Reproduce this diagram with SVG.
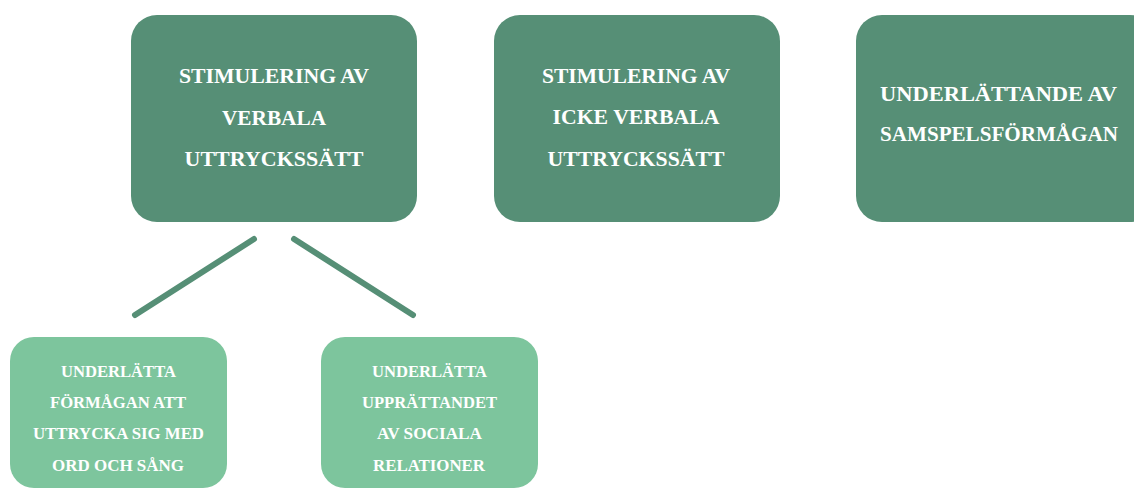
<svg xmlns="http://www.w3.org/2000/svg" width="1134" height="488" viewBox="0 0 1134 488">
<style>
.dk{fill:#568F76}
.lt{fill:#7DC59D}
.t{font-family:"Liberation Serif",serif;fill:#FFFFFF;text-anchor:middle;font-weight:bold}
.tl{font-size:21px}
.ts{font-size:16.5px}
.c{stroke:#568F76;stroke-width:6;stroke-linecap:round;fill:none}
</style>
<rect width="1134" height="488" fill="#FFFFFF"/>
<g id="connectors">
<line class="c" x1="254" y1="239" x2="135" y2="315"/>
<line class="c" x1="294" y1="239" x2="413" y2="315"/>
</g>
<g id="node-verbala">
<rect class="dk" x="131" y="15" width="286" height="207" rx="26"/>
<text class="t tl" x="274" y="83" textLength="190" lengthAdjust="spacingAndGlyphs">STIMULERING AV</text>
<text class="t tl" x="274" y="125" textLength="104" lengthAdjust="spacingAndGlyphs">VERBALA</text>
<text class="t tl" x="274" y="166" textLength="179" lengthAdjust="spacingAndGlyphs">UTTRYCKSSÄTT</text>
</g>
<g id="node-ickeverbala">
<rect class="dk" x="494" y="15" width="286" height="207" rx="26"/>
<text class="t tl" x="636" y="83" textLength="188" lengthAdjust="spacingAndGlyphs">STIMULERING AV</text>
<text class="t tl" x="636" y="124" textLength="167" lengthAdjust="spacingAndGlyphs">ICKE VERBALA</text>
<text class="t tl" x="636" y="166" textLength="177" lengthAdjust="spacingAndGlyphs">UTTRYCKSSÄTT</text>
</g>
<g id="node-samspel">
<rect class="dk" x="856" y="15" width="300" height="207" rx="26"/>
<text class="t tl" x="998.5" y="101" textLength="237" lengthAdjust="spacingAndGlyphs">UNDERLÄTTANDE AV</text>
<text class="t tl" x="999" y="141" textLength="238" lengthAdjust="spacingAndGlyphs">SAMSPELSFÖRMÅGAN</text>
</g>
<g id="node-ordsang">
<rect class="lt" x="10" y="337" width="217" height="151" rx="24"/>
<text class="t ts" x="118.5" y="377" textLength="115" lengthAdjust="spacingAndGlyphs">UNDERLÄTTA</text>
<text class="t ts" x="118" y="408" textLength="136" lengthAdjust="spacingAndGlyphs">FÖRMÅGAN ATT</text>
<text class="t ts" x="118.5" y="439" textLength="171" lengthAdjust="spacingAndGlyphs">UTTRYCKA SIG MED</text>
<text class="t ts" x="118" y="471" textLength="132" lengthAdjust="spacingAndGlyphs">ORD OCH SÅNG</text>
</g>
<g id="node-sociala">
<rect class="lt" x="321" y="337" width="217" height="151" rx="24"/>
<text class="t ts" x="429.5" y="377" textLength="115" lengthAdjust="spacingAndGlyphs">UNDERLÄTTA</text>
<text class="t ts" x="429.5" y="408" textLength="135" lengthAdjust="spacingAndGlyphs">UPPRÄTTANDET</text>
<text class="t ts" x="429.5" y="439" textLength="105" lengthAdjust="spacingAndGlyphs">AV SOCIALA</text>
<text class="t ts" x="429" y="471" textLength="112" lengthAdjust="spacingAndGlyphs">RELATIONER</text>
</g>
</svg>
